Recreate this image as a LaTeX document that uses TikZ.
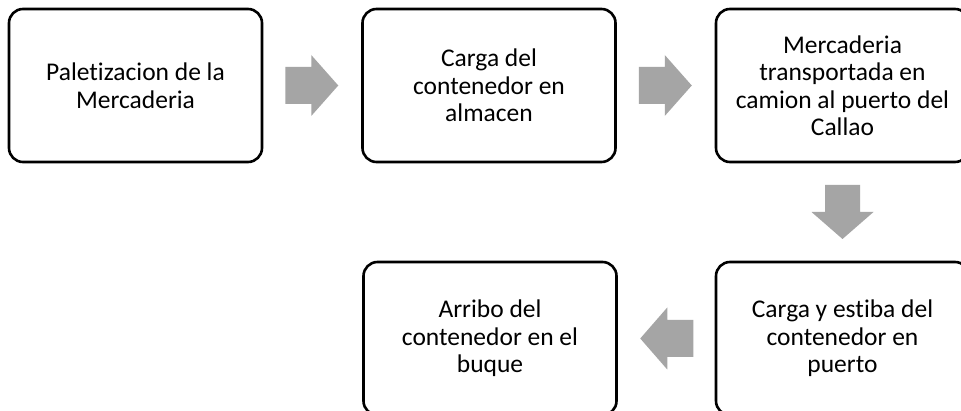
\documentclass[tikz,border=0pt]{standalone}
\usepackage{fontspec}
\setmainfont[Ligatures=NoCommon]{Carlito}
\usetikzlibrary{calc}
\tikzset{
  stepbox/.style={draw=black, line width=2.6pt, rounded corners=14pt, fill=white,
    minimum width=253pt, minimum height=153pt, inner sep=0pt, align=center,
    font=\fontsize{25.5}{27.5}\selectfont},
  arrowfill/.style={fill=arrowgray, draw=none}
}
\definecolor{arrowgray}{HTML}{A5A5A5}
\begin{document}
\begin{tikzpicture}[x=1pt,y=-1pt]
\useasboundingbox (0,0) rectangle (961,411);
\fill[white] (0,0) rectangle (961,411);
\node[stepbox] (b1) at (135.5,85.5) {Paletizacion de la\\Mercaderia};
\node[stepbox] (b2) at (489,85.5) {Carga del\\contenedor en\\almacen};
\node[stepbox] (b3) at (842.5,85.5) {Mercaderia\\transportada en\\camion al puerto del\\Callao};
\node[stepbox] (b4) at (842.5,338.5) {Carga y estiba del\\contenedor en\\puerto};
\node[stepbox] (b5) at (490,338.5) {Arribo del\\contenedor en el\\buque};
\coordinate (m1) at ($(b1.east)!0.5!(b2.west)$);
\coordinate (m2) at ($(b2.east)!0.5!(b3.west)$);
\coordinate (m3) at ($(b3.south)!0.5!(b4.north)$);
\coordinate (m4) at ($(b5.east)!0.5!(b4.west)$);
% right arrows
\foreach \m in {m1,m2}{
  \fill[arrowfill] ($(\m)+(-27,-18.5)$) -- ($(\m)+(-1,-18.5)$) -- ($(\m)+(-1,-30.5)$)
    -- ($(\m)+(26,0)$) -- ($(\m)+(-1,30.5)$) -- ($(\m)+(-1,18.5)$) -- ($(\m)+(-27,18.5)$) -- cycle;
}
% down arrow
\fill[arrowfill] ($(m3)+(-17.5,-27)$) -- ($(m3)+(17.5,-27)$) -- ($(m3)+(17.5,-0)$)
  -- ($(m3)+(31,0)$) -- ($(m3)+(0,27)$) -- ($(m3)+(-31,0)$) -- ($(m3)+(-17.5,0)$) -- cycle;
% left arrow
\fill[arrowfill] ($(m4)+(27,-18.5)$) -- ($(m4)+(1,-18.5)$) -- ($(m4)+(1,-31)$)
  -- ($(m4)+(-26,0)$) -- ($(m4)+(1,31)$) -- ($(m4)+(1,18.5)$) -- ($(m4)+(27,18.5)$) -- cycle;
\end{tikzpicture}
\end{document}
